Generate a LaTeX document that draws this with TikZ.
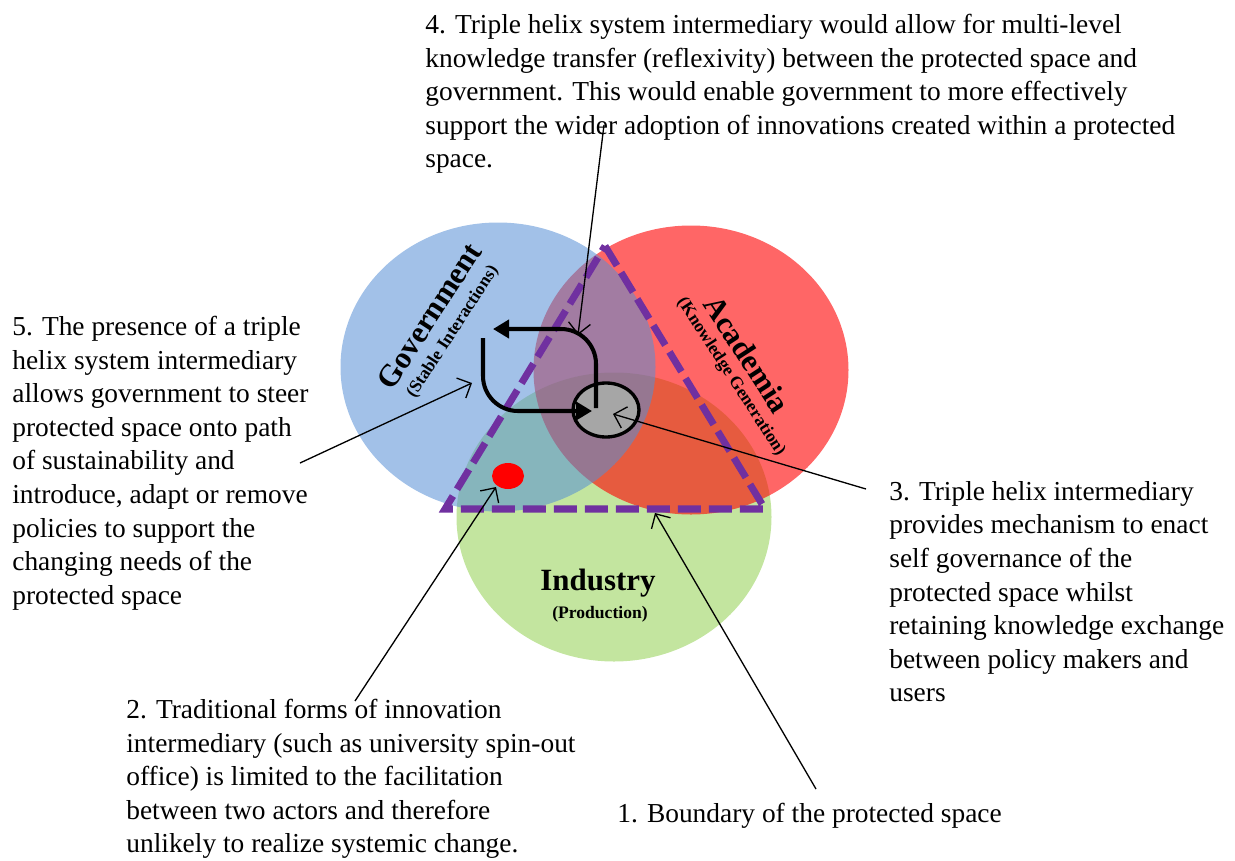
\documentclass[tikz,border=0pt]{standalone}
\usepackage{fontspec}
\setmainfont{Liberation Serif}
\usetikzlibrary{shapes.geometric,arrows.meta}
\definecolor{govblue}{RGB}{85,142,213}
\definecolor{acadred}{RGB}{255,0,0}
\definecolor{indgreen}{RGB}{146,208,80}
\definecolor{spacepurple}{RGB}{112,48,160}
\definecolor{hubgray}{RGB}{166,166,166}

\begin{document}
\begin{tikzpicture}[x=0.2mm,y=-0.2mm,
  sphere/.style={ellipse,inner sep=0pt,minimum width=63mm,minimum height=57.8mm,fill opacity=.55},
  note/.style={anchor=north west,inner sep=0pt,align=left,font=\fontsize{15.6}{19.1}\selectfont},
  title/.style={inner sep=0pt,font=\fontsize{17.6}{20}\selectfont\bfseries},
  subtitle/.style={inner sep=0pt,font=\fontsize{10}{12}\selectfont\bfseries},
  pointer/.style={-{Straight Barb[length=2.2mm,width=4.4mm]},line width=0.75pt},
  flow/.style={-{Triangle[length=3.2mm,width=3.6mm]},line width=2.3pt,rounded corners=7mm}]

  \useasboundingbox (0,0) rectangle (1235,861);

  % the three spheres
  \node[sphere,fill=indgreen] (ind) at (614,517) {};
  \node[sphere,fill=acadred,fill opacity=.6] (acad) at (691,370) {};
  \node[sphere,fill=govblue] (gov) at (498,367) {};

  % protected space
  \coordinate (top) at (605,246);
  \coordinate (left) at (445,509);
  \coordinate (right) at (765,509);
  \draw[spacepurple,line width=4pt,dash pattern=on 4.6mm off 1.6mm]
    (top) -- (right) -- (left) -- cycle;

  \node[ellipse,draw,fill=hubgray,line width=1.9pt,inner sep=0pt,
    minimum width=13.2mm,minimum height=10.8mm] (hub) at (606,410) {};
  \node[ellipse,fill=red,inner sep=0pt,minimum width=6.4mm,minimum height=5.2mm] (dot) at (508,476) {};

  \draw[flow] (596,408) -- (596,329) -- (493,329);
  \draw[flow] (483,338) -- (483,411) -- (592,411);

  \node[title,rotate=57] (govname) at (429,316) {Government};
  \node[subtitle,rotate=57] (govsub) at (453,332) {(Stable Interactions)};
  \node[title,rotate=-57] (acadname) at (747,354) {Academia};
  \node[subtitle,rotate=-57] (acadsub) at (731,377) {(Knowledge Generation)};
  \node[title] (indname) at (598,583) {Industry};
  \node[subtitle] (indsub) at (600,614) {(Production)};

  % notes
  \node[note] (n4) at (425,14) {4. Triple helix system intermediary would allow for multi-level\\
    knowledge transfer (reflexivity) between the protected space and\\
    government. This would enable government to more effectively\\
    support the wider adoption of innovations created within a protected\\
    space.};
  \node[note] (n5) at (12,316) {5. The presence of a triple\\helix system intermediary\\
    allows government to steer\\protected space onto path\\of sustainability and\\
    introduce, adapt or remove\\policies to support the\\changing needs of the\\protected space};
  \node[note] (n3) at (889,481) {3. Triple helix intermediary\\provides mechanism to enact\\
    self governance of the\\protected space whilst\\retaining knowledge exchange\\
    between policy makers and\\users};
  \node[note] (n2) at (126,699) {2. Traditional forms of innovation\\
    intermediary (such as university spin-out\\office) is limited to the facilitation\\
    between two actors and therefore\\unlikely to realize systemic change.};
  \node[note] (n1) at (617,803) {1. Boundary of the protected space};

  \coordinate (p1) at (816,789);
  \coordinate (p2) at (355,701);
  \coordinate (p3) at (866,489);
  \coordinate (p4) at (604,125);
  \coordinate (p5) at (300,463);

  \draw[pointer] (p1) -- (655,513);
  \draw[pointer] (p2) -- (496,487);
  \draw[pointer] (p3) -- (613,414);
  \draw[pointer] (p4) -- (578,335);
  \draw[pointer] (p5) -- (472,383);
\end{tikzpicture}
\end{document}
